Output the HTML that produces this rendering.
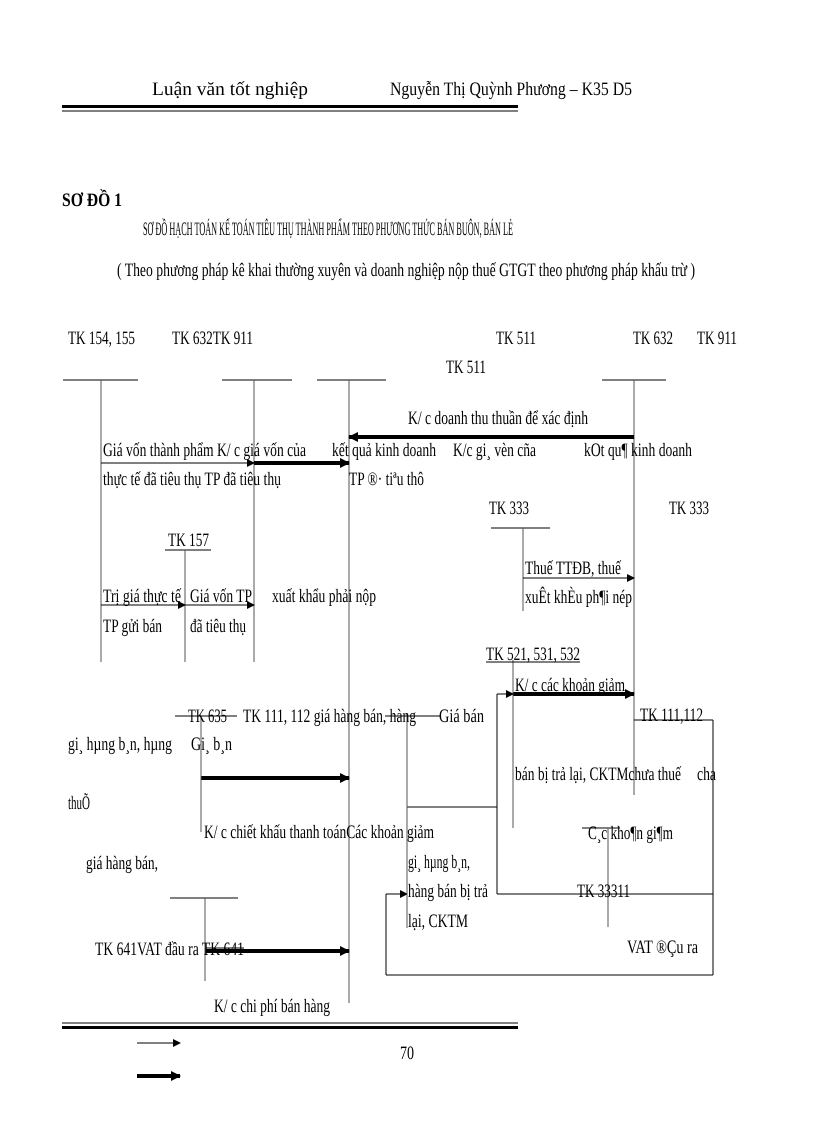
<!DOCTYPE html>
<html><head><meta charset="utf-8"><style>
html,body{margin:0;padding:0;background:#fff;}
svg{display:block;}
text{font-family:"Liberation Serif",serif;fill:#000;font-size:19px;}
</style></head><body>
<svg width="816" height="1123" viewBox="0 0 816 1123" xmlns="http://www.w3.org/2000/svg">
<defs>
<marker id="a" markerWidth="8" markerHeight="8" refX="7" refY="4" orient="auto" markerUnits="userSpaceOnUse"><path d="M0,0 L8,4 L0,8 z" fill="#000"/></marker>
<marker id="b" markerWidth="10" markerHeight="10" refX="9" refY="5" orient="auto" markerUnits="userSpaceOnUse"><path d="M0,0 L10,5 L0,10 z" fill="#000"/></marker>
</defs>
<g text-rendering="geometricPrecision">
<text x="152" y="95" font-size="22" textLength="156" lengthAdjust="spacingAndGlyphs">Luận văn tốt nghiệp</text>
<text x="390" y="95" font-size="22" textLength="242" lengthAdjust="spacingAndGlyphs">Nguyễn Thị Quỳnh Phương – K35 D5</text>
<rect x="62" y="105" width="456" height="3" fill="#000"/>
<rect x="62" y="110.5" width="456" height="1" fill="#000"/>

<text x="62" y="206" font-size="20" font-weight="bold" textLength="60" lengthAdjust="spacingAndGlyphs">SƠ ĐỒ 1</text>
<text x="143" y="235" font-size="15" textLength="370" lengthAdjust="spacingAndGlyphs">SƠ ĐỒ HẠCH TOÁN KẾ TOÁN TIÊU THỤ THÀNH PHẨM THEO PHƯƠNG THỨC BÁN BUÔN, BÁN LẺ</text>
<text x="117" y="276" font-size="20" textLength="578" lengthAdjust="spacingAndGlyphs">( Theo phương pháp kê khai thường xuyên và doanh nghiệp nộp thuế GTGT theo phương pháp khấu trừ )</text>

<g font-size="19">
<text x="68" y="344" textLength="67" lengthAdjust="spacingAndGlyphs">TK 154, 155</text>
<text x="172" y="344" textLength="81" lengthAdjust="spacingAndGlyphs">TK 632TK 911</text>
<text x="496" y="344" textLength="40" lengthAdjust="spacingAndGlyphs">TK 511</text>
<text x="633" y="344" textLength="40" lengthAdjust="spacingAndGlyphs">TK 632</text>
<text x="697" y="344" textLength="40" lengthAdjust="spacingAndGlyphs">TK 911</text>
<text x="446" y="373" textLength="40" lengthAdjust="spacingAndGlyphs">TK 511</text>
</g>

<g stroke="#000" stroke-width="1" fill="none">
<line x1="63" y1="380" x2="138" y2="380"/>
<line x1="222" y1="380" x2="292" y2="380"/>
<line x1="317" y1="380" x2="386" y2="380"/>
<line x1="602" y1="380" x2="666" y2="380"/>
<line x1="101" y1="380" x2="101" y2="662" stroke="#555"/>
<line x1="254" y1="380" x2="254" y2="662" stroke="#555"/>
<line x1="349" y1="380" x2="349" y2="1003" stroke="#555"/>
<line x1="634" y1="380" x2="634" y2="795" stroke="#555"/>
<line x1="491" y1="528" x2="550" y2="528"/>
<line x1="523" y1="528" x2="523" y2="611" stroke="#555"/>
<line x1="165" y1="550" x2="211" y2="550"/>
<line x1="185" y1="550" x2="185" y2="662" stroke="#555"/>
<line x1="101" y1="463" x2="254" y2="463" marker-end="url(#a)"/>
<line x1="523" y1="578" x2="634" y2="578" marker-end="url(#a)"/>
<line x1="101" y1="605" x2="185" y2="605" marker-end="url(#a)"/>
<line x1="185" y1="605" x2="254" y2="605" marker-end="url(#a)"/>
<line x1="254" y1="463" x2="349" y2="463" stroke-width="4" marker-end="url(#b)"/>
<line x1="634" y1="437" x2="349" y2="437" stroke-width="4" marker-end="url(#b)"/>
<line x1="513" y1="694" x2="634" y2="694" stroke-width="4" marker-end="url(#b)"/>
<line x1="201" y1="778" x2="349" y2="778" stroke-width="4" marker-end="url(#b)"/>
<line x1="205" y1="951" x2="349" y2="951" stroke-width="4" marker-end="url(#b)"/>
<line x1="513" y1="660" x2="513" y2="828" stroke="#555"/>
<line x1="497" y1="694" x2="513" y2="694" marker-end="url(#a)"/>
<line x1="497" y1="694" x2="497" y2="894"/>
<line x1="407" y1="807" x2="497" y2="807"/>
<line x1="497" y1="894" x2="713" y2="894"/>
<line x1="634" y1="720" x2="713" y2="720"/>
<line x1="713" y1="720" x2="713" y2="975"/>
<line x1="386" y1="975" x2="713" y2="975"/>
<line x1="386" y1="894" x2="386" y2="975"/>
<line x1="386" y1="894" x2="407" y2="894" marker-end="url(#a)"/>
<line x1="407" y1="713" x2="407" y2="928" stroke="#555"/>
<line x1="175" y1="716" x2="237" y2="716"/>
<line x1="385" y1="716" x2="440" y2="716"/>
<line x1="201" y1="716" x2="201" y2="832" stroke="#555"/>
<line x1="582" y1="828" x2="620" y2="828"/>
<line x1="608" y1="828" x2="608" y2="927" stroke="#555"/>
<line x1="170" y1="898" x2="238" y2="898"/>
<line x1="205" y1="898" x2="205" y2="981" stroke="#555"/>
<line x1="206" y1="948" x2="244" y2="948"/>
<line x1="486" y1="662" x2="580" y2="662"/>
<line x1="137" y1="1043" x2="180" y2="1043" marker-end="url(#a)"/>
<line x1="137" y1="1076" x2="180" y2="1076" stroke-width="4" marker-end="url(#b)"/>
</g>

<g font-size="19">
<text x="408" y="424" textLength="180" lengthAdjust="spacingAndGlyphs">K/ c doanh thu thuần để xác định</text>
<text x="103" y="456" textLength="203" lengthAdjust="spacingAndGlyphs">Giá vốn thành phẩm K/ c giá vốn của</text>
<text x="332" y="456" textLength="104" lengthAdjust="spacingAndGlyphs">kết quả kinh doanh</text>
<text x="453" y="456" textLength="83" lengthAdjust="spacingAndGlyphs">K/c gi¸ vèn cña</text>
<text x="584" y="456" textLength="108" lengthAdjust="spacingAndGlyphs">kOt qu¶ kinh doanh</text>
<text x="103" y="485" textLength="178" lengthAdjust="spacingAndGlyphs">thực tế đã tiêu thụ TP đã tiêu thụ</text>
<text x="349" y="485" textLength="75" lengthAdjust="spacingAndGlyphs">TP ®· tiªu thô</text>
<text x="489" y="514" textLength="40" lengthAdjust="spacingAndGlyphs">TK 333</text>
<text x="669" y="514" textLength="40" lengthAdjust="spacingAndGlyphs">TK 333</text>
<text x="168" y="546" textLength="41" lengthAdjust="spacingAndGlyphs">TK 157</text>
<text x="525" y="574" textLength="96" lengthAdjust="spacingAndGlyphs">Thuế TTĐB, thuế</text>
<text x="525" y="603" textLength="107" lengthAdjust="spacingAndGlyphs">xuÊt khÈu ph¶i nép</text>
<text x="103" y="602" textLength="78" lengthAdjust="spacingAndGlyphs">Trị giá thực tế</text>
<text x="190" y="602" textLength="62" lengthAdjust="spacingAndGlyphs">Giá vốn TP</text>
<text x="272" y="602" textLength="104" lengthAdjust="spacingAndGlyphs">xuất khẩu phải nộp</text>
<text x="103" y="632" textLength="59" lengthAdjust="spacingAndGlyphs">TP gửi bán</text>
<text x="190" y="632" textLength="56" lengthAdjust="spacingAndGlyphs">đã tiêu thụ</text>
<text x="486" y="660" textLength="94" lengthAdjust="spacingAndGlyphs">TK 521, 531, 532</text>
<text x="515" y="691" textLength="110" lengthAdjust="spacingAndGlyphs">K/ c các khoản giảm</text>
<text x="188" y="722" textLength="39" lengthAdjust="spacingAndGlyphs">TK 635</text>
<text x="243" y="722" textLength="173" lengthAdjust="spacingAndGlyphs">TK 111, 112 giá hàng bán, hàng</text>
<text x="439" y="722" textLength="45" lengthAdjust="spacingAndGlyphs">Giá bán</text>
<text x="640" y="721" textLength="63" lengthAdjust="spacingAndGlyphs">TK 111,112</text>
<text x="68" y="750" textLength="104" lengthAdjust="spacingAndGlyphs">gi¸ hµng b¸n, hµng</text>
<text x="191" y="750" textLength="41" lengthAdjust="spacingAndGlyphs">Gi¸ b¸n</text>
<text x="515" y="780" textLength="166" lengthAdjust="spacingAndGlyphs">bán bị trả lại, CKTMchưa thuế</text>
<text x="697" y="780" textLength="19" lengthAdjust="spacingAndGlyphs">cha</text>
<text x="68" y="809" textLength="22" lengthAdjust="spacingAndGlyphs">thuÕ</text>
<text x="204" y="838" textLength="230" lengthAdjust="spacingAndGlyphs">K/ c chiết khấu thanh toánCác khoản giảm</text>
<text x="588" y="839" textLength="85" lengthAdjust="spacingAndGlyphs">C¸c kho¶n gi¶m</text>
<text x="86" y="869" textLength="72" lengthAdjust="spacingAndGlyphs">giá hàng bán,</text>
<text x="408" y="868" textLength="62" lengthAdjust="spacingAndGlyphs">gi¸ hµng b¸n,</text>
<text x="408" y="897" textLength="80" lengthAdjust="spacingAndGlyphs">hàng bán bị trả</text>
<text x="577" y="897" textLength="53" lengthAdjust="spacingAndGlyphs">TK 33311</text>
<text x="408" y="927" textLength="60" lengthAdjust="spacingAndGlyphs">lại, CKTM</text>
<text x="627" y="953" textLength="71" lengthAdjust="spacingAndGlyphs">VAT ®Çu ra</text>
<text x="95" y="955" textLength="149" lengthAdjust="spacingAndGlyphs">TK 641VAT đầu ra TK 641</text>
<text x="214" y="1012" textLength="116" lengthAdjust="spacingAndGlyphs">K/ c chi phí bán hàng</text>
<text x="400" y="1059" textLength="14" lengthAdjust="spacingAndGlyphs">70</text>
</g>

<rect x="62" y="1022.5" width="456" height="1" fill="#000"/>
<rect x="62" y="1026" width="456" height="3" fill="#000"/>
</g>
</svg>
</body></html>
